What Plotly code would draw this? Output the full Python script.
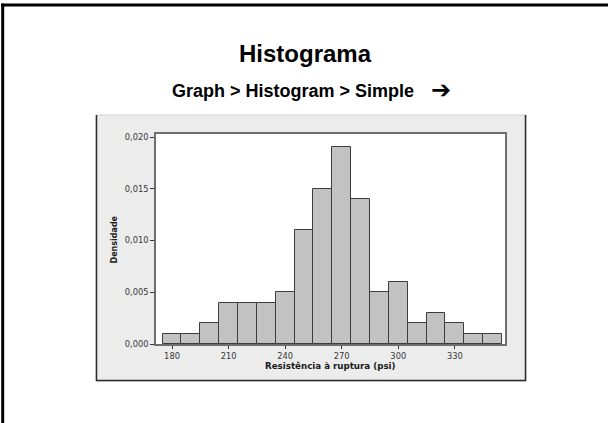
import plotly.graph_objects as go

# Data
bin_centers = [180, 190, 200, 210, 220, 230, 240, 250, 260, 270, 280, 290, 300, 310, 320, 330, 340, 350]
densities = [0.001, 0.001, 0.002, 0.004, 0.004, 0.004, 0.005, 0.011, 0.015, 0.019,
             0.014, 0.005, 0.006, 0.002, 0.003, 0.002, 0.001, 0.001]
x_ticks = [180, 210, 240, 270, 300, 330]
y_ticks = [0.000, 0.005, 0.010, 0.015, 0.020]

W, H = 608, 423
L, R, T, B = 156, 505, 134, 344  # plot area pixel box


def px(xp):
    return (xp - L) / (R - L)


def py(yp):
    return (B - yp) / (B - T)


fig = go.Figure()
fig.add_trace(go.Bar(
    x=bin_centers, y=densities, width=10,
    marker=dict(color="#c2c2c2", line=dict(color="#3c3c3c", width=1)),
    hoverinfo="x+y", showlegend=False,
))

tick_font = dict(family="DejaVu Sans", size=8.3, color="#383838")

shapes = [
    # gray panel behind the chart
    dict(type="rect", xref="paper", yref="paper", layer="below",
         x0=px(96), x1=px(526), y0=py(381), y1=py(115),
         fillcolor="#ececec", line=dict(color="#d4d4d4", width=1)),
    dict(type="line", xref="paper", yref="paper", x0=px(96.5), x1=px(96.5), y0=py(381), y1=py(115),
         line=dict(color="#2a2a2a", width=1.5)),
    dict(type="line", xref="paper", yref="paper", x0=px(525.5), x1=px(525.5), y0=py(381), y1=py(115),
         line=dict(color="#2a2a2a", width=1.5)),
    dict(type="line", xref="paper", yref="paper", x0=px(96), x1=px(526), y0=py(380.5), y1=py(380.5),
         line=dict(color="#2a2a2a", width=1.5)),
    # white plot area
    dict(type="rect", xref="paper", yref="paper", layer="below",
         x0=0, x1=1, y0=0, y1=1, fillcolor="white", line=dict(width=0)),
    # slide frame (left and top)
    dict(type="line", xref="paper", yref="paper", x0=px(2.7), x1=px(2.7), y0=py(3.5), y1=py(H + 5),
         line=dict(color="black", width=3)),
    dict(type="line", xref="paper", yref="paper", x0=px(1.2), x1=px(W + 5), y0=py(5), y1=py(5),
         line=dict(color="black", width=3)),
]

annotations = [
    dict(text="<b>Histograma</b>", xref="paper", yref="paper", x=px(305), y=py(53),
         showarrow=False, xanchor="center", yanchor="middle",
         font=dict(family="Liberation Sans, Arial", size=24, color="black")),
    dict(text="<b>Graph &gt; Histogram &gt; Simple</b>", xref="paper", yref="paper",
         x=px(170), y=py(91), showarrow=False, xanchor="left", yanchor="middle",
         font=dict(family="Liberation Sans, Arial", size=18, color="black")),
    dict(text="<b>➔</b>", xref="paper", yref="paper",
         x=px(441), y=py(90), showarrow=False, xanchor="center", yanchor="middle",
         font=dict(family="DejaVu Sans", size=24, color="black")),
    dict(text="<b>Densidade</b>", xref="paper", yref="paper", x=px(114), y=py(239.5),
         showarrow=False, textangle=-90, xanchor="center", yanchor="middle",
         font=dict(family="DejaVu Sans", size=8, color="#1a1a1a")),
    dict(text="<b>Resistência à ruptura (psi)</b>", xref="paper", yref="paper", x=px(330), y=py(366),
         showarrow=False, xanchor="center", yanchor="middle",
         font=dict(family="DejaVu Sans", size=8.7, color="#1a1a1a")),
]

fig.update_layout(
    width=W, height=H,
    margin=dict(l=L, r=W - R, t=T, b=H - B, pad=0),
    paper_bgcolor="white", plot_bgcolor="white",
    separators=",.",
    bargap=0,
    shapes=shapes, annotations=annotations,
    showlegend=False,
)
fig.update_xaxes(
    range=[171.5, 356.6], tickvals=x_ticks, ticks="outside", ticklen=3, tickwidth=1,
    tickcolor="#333333", tickfont=tick_font, showgrid=False, zeroline=False,
    showline=True, linecolor="#6e6e6e", linewidth=1.5, mirror=True, fixedrange=True,
)
fig.update_yaxes(
    range=[0, 0.0203], tickvals=y_ticks, tickformat=".3f", ticks="outside", ticklen=4, tickwidth=1,
    tickcolor="#333333", tickfont=tick_font, showgrid=False, zeroline=False,
    showline=True, linecolor="#6e6e6e", linewidth=1.5, mirror=True, fixedrange=True,
)

fig.write_html(
    "out.html",
    config={"displayModeBar": False},
    post_script="document.body.style.margin='0';document.body.style.overflow='hidden';",
)
